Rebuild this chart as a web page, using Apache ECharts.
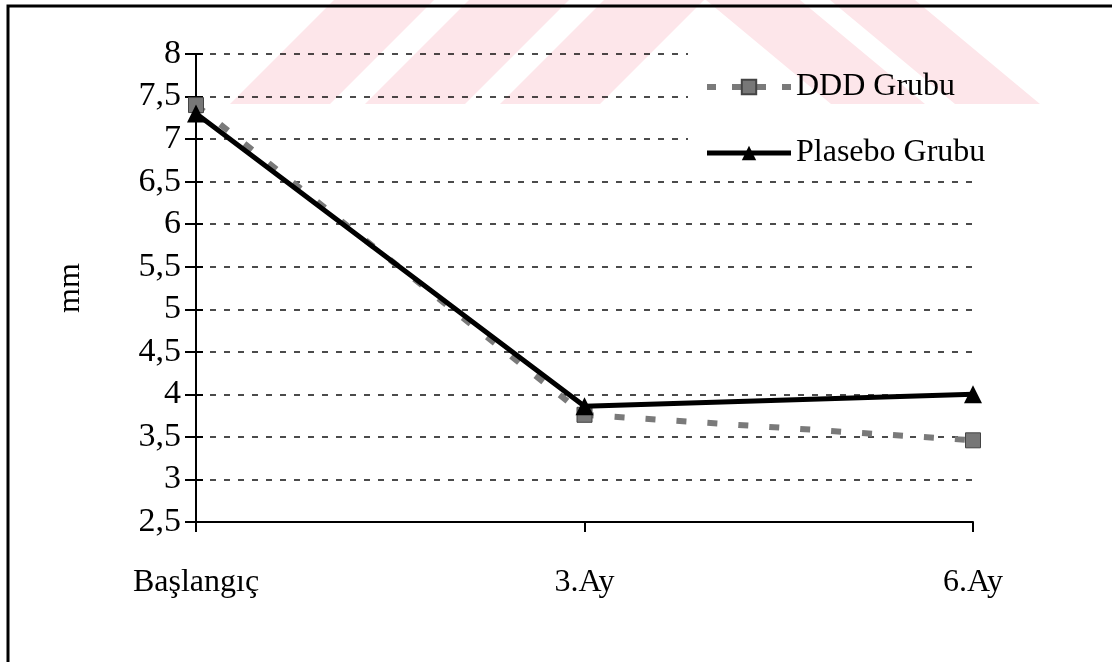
<!DOCTYPE html>
<html>
<head>
<meta charset="utf-8">
<script src="https://cdn.jsdelivr.net/npm/echarts@6/dist/echarts.min.js"></script>
<style>
  html, body { margin: 0; padding: 0; background: #fff; }
  #wrap { position: relative; width: 1112px; height: 662px; }
  #chart { width: 1112px; height: 662px; }
  #bands { position: absolute; left: 0; top: 0; width: 1112px; height: 110px;
           pointer-events: none; mix-blend-mode: multiply; }
</style>
</head>
<body>
<div id="wrap">
  <div id="chart"></div>
  <svg id="bands" width="1112" height="110" xmlns="http://www.w3.org/2000/svg"></svg>
</div>
<script>
// Measurements per visit (mm)
const categories = ['Başlangıç', '3.Ay', '6.Ay'];
const dddValues = [7.4, 3.76, 3.46];
const plaseboValues = [7.3, 3.86, 4.0];
const seriesNames = ['DDD Grubu', 'Plasebo Grubu'];
const yTickLabels = ['2,5', '3', '3,5', '4', '4,5', '5', '5,5', '6', '6,5', '7', '7,5', '8'];
const yMin = 2.5, yMax = 8, yStep = 0.5;
const axisName = 'mm';

const FONT = '"Liberation Serif", "Times New Roman", serif';
const FS = 32;
const PINK = '#fde6ea';

// Faint diagonal band pattern along the top edge of the page (multiplied over the chart)
const bandTop = 0, bandBot = 104;
const bandEdges = [
  [334, 434, 230, 330],
  [469, 569, 365, 465],
  [604, 704, 500, 600],
  [706, 800, 831, 925],
  [830, 915, 955, 1040]
];
const svg = document.getElementById('bands');
bandEdges.forEach(([tl, tr, bl, br]) => {
  const p = document.createElementNS('http://www.w3.org/2000/svg', 'polygon');
  p.setAttribute('points', `${tl},${bandTop} ${tr},${bandTop} ${br},${bandBot} ${bl},${bandBot}`);
  p.setAttribute('fill', PINK);
  svg.appendChild(p);
});

const chart = echarts.init(document.getElementById('chart'), null, { renderer: 'canvas' });

chart.setOption({
  backgroundColor: '#fff',
  animation: false,
  textStyle: { fontFamily: FONT },
  graphic: [
    {
      type: 'rect', z: 100, silent: true,
      shape: { x: 8, y: 6, width: 1300, height: 900 },
      style: { fill: null, stroke: '#000', lineWidth: 3 }
    }
  ],
  grid: { left: 196, right: 139, top: 54, bottom: 140, containLabel: false },
  legend: {
    orient: 'vertical',
    left: 688, top: 46,
    padding: [23, 24, 6, 16],
    backgroundColor: '#fff',
    itemWidth: 84, itemHeight: 18,
    itemGap: 30,
    z: 10,
    textStyle: { fontFamily: FONT, fontSize: FS, color: '#000', lineHeight: 36 },
    data: [
      { name: seriesNames[0], lineStyle: { width: 6, type: [9, 16], color: '#7a7a7a' } },
      { name: seriesNames[1], lineStyle: { width: 5, color: '#000' } }
    ]
  },
  xAxis: {
    type: 'category',
    data: categories,
    boundaryGap: false,
    axisLine: { show: true, lineStyle: { color: '#000', width: 2 } },
    axisTick: { show: true, alignWithLabel: true, length: 10, lineStyle: { color: '#000', width: 2 } },
    axisLabel: { color: '#000', fontFamily: FONT, fontSize: FS, margin: 45 },
    splitLine: { show: false }
  },
  yAxis: [
    {
      type: 'value',
      min: yMin, max: yMax, interval: yStep,
      name: axisName,
      nameLocation: 'middle',
      nameGap: 109,
      nameRotate: 90,
      nameTextStyle: { color: '#000', fontFamily: FONT, fontSize: FS },
      axisLine: { show: true, lineStyle: { color: '#000', width: 2 } },
      axisTick: { show: true, length: 11, lineStyle: { color: '#000', width: 2 } },
      axisLabel: {
        color: '#000', fontFamily: FONT, fontSize: 34, margin: 15,
        formatter: v => yTickLabels[Math.round((v - yMin) / yStep)]
      },
      splitLine: { show: true, lineStyle: { color: '#111', width: 1.6, type: [6, 8] } }
    },
    {
      type: 'value',
      min: yMin, max: yMax, interval: yStep,
      position: 'left',
      axisLine: { show: false },
      axisTick: { show: true, inside: true, length: 7, lineStyle: { color: '#000', width: 2 } },
      axisLabel: { show: false },
      splitLine: { show: false }
    }
  ],
  series: [
    {
      name: seriesNames[0],
      type: 'line',
      data: dddValues,
      z: 2,
      symbol: 'rect',
      symbolSize: 15,
      lineStyle: { color: '#7a7a7a', width: 6, type: [10, 21], cap: 'butt' },
      itemStyle: { color: '#777', borderColor: '#444', borderWidth: 1 }
    },
    {
      name: seriesNames[1],
      type: 'line',
      data: plaseboValues,
      z: 3,
      symbol: 'triangle',
      symbolSize: 18,
      lineStyle: { color: '#000', width: 5 },
      itemStyle: { color: '#000' }
    }
  ]
});
</script>
</body>
</html>
